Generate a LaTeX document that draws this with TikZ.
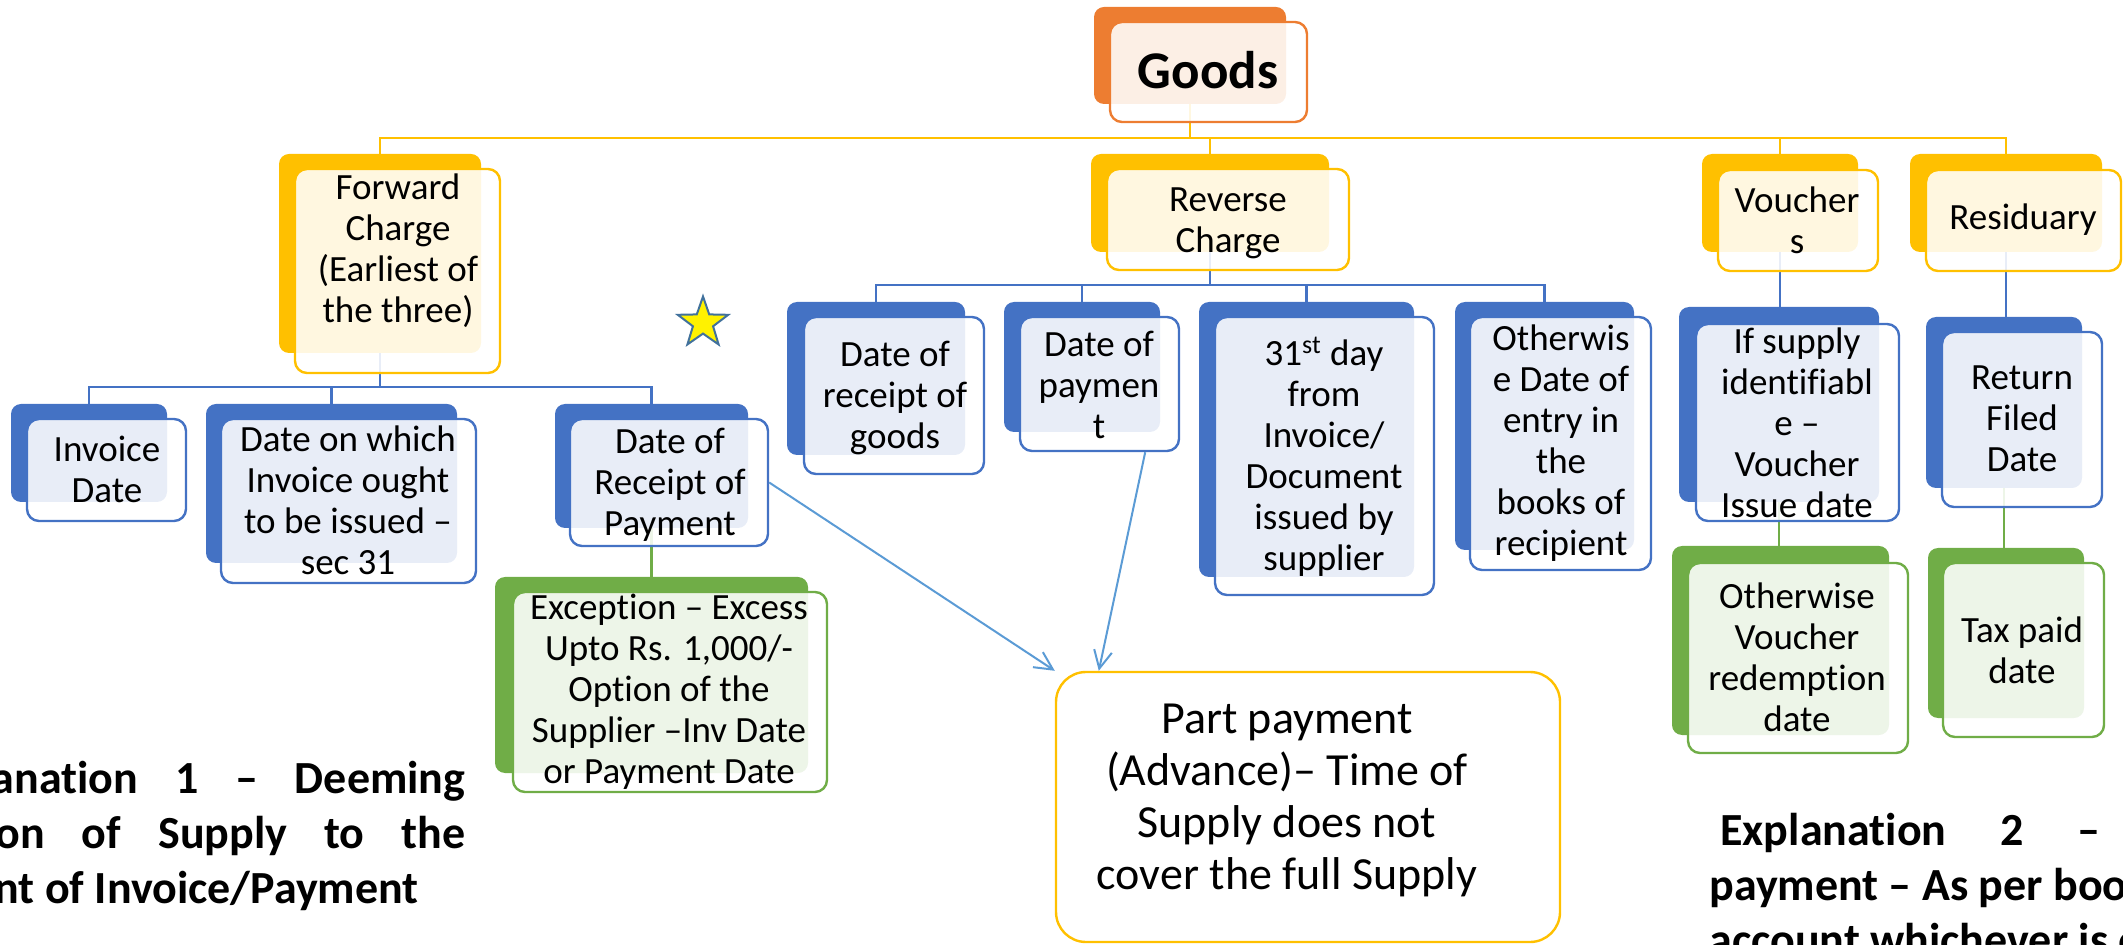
\documentclass[tikz,border=0pt]{standalone}
\usepackage{fontspec}
\setmainfont{Carlito}[Ligatures=NoCommon]
\usetikzlibrary{fit,shapes.geometric,arrows.meta,calc}

\definecolor{cOrange}{HTML}{ED7D31}
\definecolor{cYellow}{HTML}{FFC000}
\definecolor{cBlue}{HTML}{4472C4}
\definecolor{cGreen}{HTML}{70AD47}
\definecolor{cArrow}{HTML}{5B9BD5}
\definecolor{cStar}{HTML}{41719C}

\pgfdeclarelayer{bg}
\pgfsetlayers{bg,main}

\tikzset{
  backbox/.style={draw=none, fill=#1, rounded corners=5pt, inner sep=0pt},
  frontbox/.style={draw=#1, line width=1.2pt, fill=white, fill opacity=0.88,
                   rounded corners=6pt, inner sep=0pt},
  lbl/.style={align=center, inner sep=0pt, text=black,
              font=\fontsize{18.5}{20.5}\selectfont},
  conn/.style={draw=#1, line width=1.2pt},
  arr/.style={draw=cArrow, line width=1pt,
              -{Straight Barb[length=9pt,width=9pt,line width=1pt]}},
  expl/.style={inner sep=0pt, font=\fontsize{23}{27.5}\selectfont\bfseries},
}

% back (accent) box and outlined front box of one entry
\newcommand\dblbox[4]{%
  \node[backbox=#2, fit={#3}] (#1-b) {};
  \node[frontbox=#2, fit={#4}] (#1) {};
}

\begin{document}
\begin{tikzpicture}[x=0.5pt, y=-0.5pt]
\useasboundingbox (0,0) rectangle (2123,945);
\clip (0,0) rectangle (2123,945);

% ---- boxes ----
\dblbox{goods}{cOrange}{(1094,7) (1286,104)}{(1110,22) (1307,122)}
\dblbox{fc}{cYellow}{(279,154) (481,353)}{(295,169) (500,373)}
\dblbox{rc}{cYellow}{(1091,154) (1329,252)}{(1107,169) (1349,270)}
\dblbox{vch}{cYellow}{(1702,154) (1858,252)}{(1718,170) (1878,271)}
\dblbox{res}{cYellow}{(1910,154) (2102,252)}{(1926,170) (2121,271)}

\dblbox{inv}{cBlue}{(11,404) (167,502)}{(27,419) (186,521)}
\dblbox{dow}{cBlue}{(206,404) (457,563)}{(221,419) (476,583)}
\dblbox{dorp}{cBlue}{(555,404) (748,528)}{(570,419) (768,546)}
\dblbox{exc}{cGreen}{(495,577) (808,773)}{(513,592) (827,792)}

\dblbox{drg}{cBlue}{(787,302) (965,455)}{(804,317) (984,474)}
\dblbox{dop}{cBlue}{(1004,302) (1160,432)}{(1020,317) (1179,451)}
\dblbox{d31}{cBlue}{(1199,302) (1414,577)}{(1215,317) (1434,595)}
\dblbox{ode}{cBlue}{(1455,302) (1634,550)}{(1470,317) (1651,570)}

\dblbox{ifs}{cBlue}{(1679,307) (1879,502)}{(1696,324) (1899,521)}
\dblbox{ovr}{cGreen}{(1672,546) (1889,735)}{(1688,563) (1908,753)}
\dblbox{rfd}{cBlue}{(1926,317) (2082,488)}{(1942,332) (2102,507)}
\dblbox{tax}{cGreen}{(1928,548) (2084,718)}{(1943,563) (2104,737)}

\node[draw=cYellow, line width=1.2pt, rounded corners=15pt, inner sep=0pt,
      fit={(1056,672) (1560,942)}] (pp) {};

% ---- labels ----
\node[inner sep=0pt, font=\fontsize{26.5}{30}\selectfont\bfseries] (goods-t) at (1208,70) {Goods};
\node[lbl] (fc-t) at (398,251) {Forward\\Charge\\(Earliest of\\the three)};
\node[lbl] (rc-t) at (1228,223) {Reverse\\Charge};
\node[lbl] (vch-t) at (1797,220) {Voucher\\s};
\node[lbl] (res-t) at (2023,220) {Residuary};

\node[lbl] (inv-t) at (107,469) {Invoice\\Date};
\node[lbl] (dow-t) at (348,500) {Date on which\\Invoice ought\\to be issued –\\sec 31};
\node[lbl] (dorp-t) at (670,485) {Date of\\Receipt of\\Payment};
\node[lbl] (exc-t) at (669,692) {Exception – Excess\\Upto Rs. 1,000/-\\Option of the\\Supplier –Inv Date\\or Payment Date};

\node[lbl] (drg-t) at (895,398) {Date of\\receipt of\\goods};
\node[lbl] (dop-t) at (1099,385) {Date of\\paymen\\t};
\node[lbl] (d31-t) at (1324,457) {31\textsuperscript{st} day\\from\\Invoice/\\Document\\issued by\\supplier};
\node[lbl] (ode-t) at (1561,443) {Otherwis\\e Date of\\entry in\\the\\books of\\recipient};

\node[lbl] (ifs-t) at (1797,423) {If supply\\identifiabl\\e –\\Voucher\\Issue date};
\node[lbl] (ovr-t) at (1797,657) {Otherwise\\Voucher\\redemption\\date};
\node[lbl] (rfd-t) at (2022,419) {Return\\Filed\\Date};
\node[lbl] (tax-t) at (2022,650) {Tax paid\\date};

\node[align=center, inner sep=0pt, font=\fontsize{23}{26}\selectfont] (pp-t) at (1287,800)
  {Part payment\\(Advance)– Time of\\Supply does not\\cover the full Supply};

% explanations at the picture's edges
\node[expl, anchor=base west] (ex1a) at (-88,793) {\makebox[276.5pt][s]{Explanation 1 – Deeming}};
\node[expl, anchor=base west] (ex1b) at (-98,848) {\makebox[281.5pt][s]{portion of Supply to the}};
\node[expl, anchor=base west] (ex1c) at (-88,903) {extent of Invoice/Payment};
\node[expl, anchor=base west] (ex2a) at (1720,845) {\makebox[190pt][s]{Explanation 2 –}};
\node[expl, anchor=base west] (ex2b) at (1709,900) {payment – As per books of};
\node[expl, anchor=base west] (ex2c) at (1709,955) {account whichever is earlier};

% star
\node[star, star points=5, star point ratio=2.5, minimum size=26.5pt, inner sep=0pt,
      fill=yellow, draw=cStar, line width=1pt] (star) at (703,323) {};

% ---- connectors ----
\coordinate (bus0) at (0,138);
\coordinate (bus1) at (0,387);
\coordinate (bus2) at (0,285);
\begin{pgfonlayer}{bg}
  \foreach \c in {fc,rc,vch,res}
    \draw[conn=cYellow] (goods-b.south) -- (goods-b.south |- bus0) -| (\c-b.north);
  \foreach \c in {inv,dow,dorp}
    \draw[conn=cBlue] (fc-b.south) -- (fc-b.south |- bus1) -| (\c-b.north);
  \foreach \c in {drg,dop,d31,ode}
    \draw[conn=cBlue] (rc-b.south) -- (rc-b.south |- bus2) -| (\c-b.north);
  \draw[conn=cGreen] (dorp-b.south) -- (dorp-b.south |- exc-b.north);
  \draw[conn=cBlue] (vch-b.south) -- (vch-b.south |- ifs-b.north);
  \draw[conn=cGreen] (ifs-b.south) -- (ifs-b.south |- ovr-b.north);
  \draw[conn=cBlue] (res-b.south) -- (res-b.south |- rfd-b.north);
  \draw[conn=cGreen] (rfd-b.south) -- (rfd-b.south |- tax-b.north);
\end{pgfonlayer}

\draw[arr] (dorp.east) -- (pp.north west);
\draw[arr] ([xshift=-17.5pt]dop.south east) -- ([xshift=22pt]pp.north west);
\end{tikzpicture}
\end{document}
